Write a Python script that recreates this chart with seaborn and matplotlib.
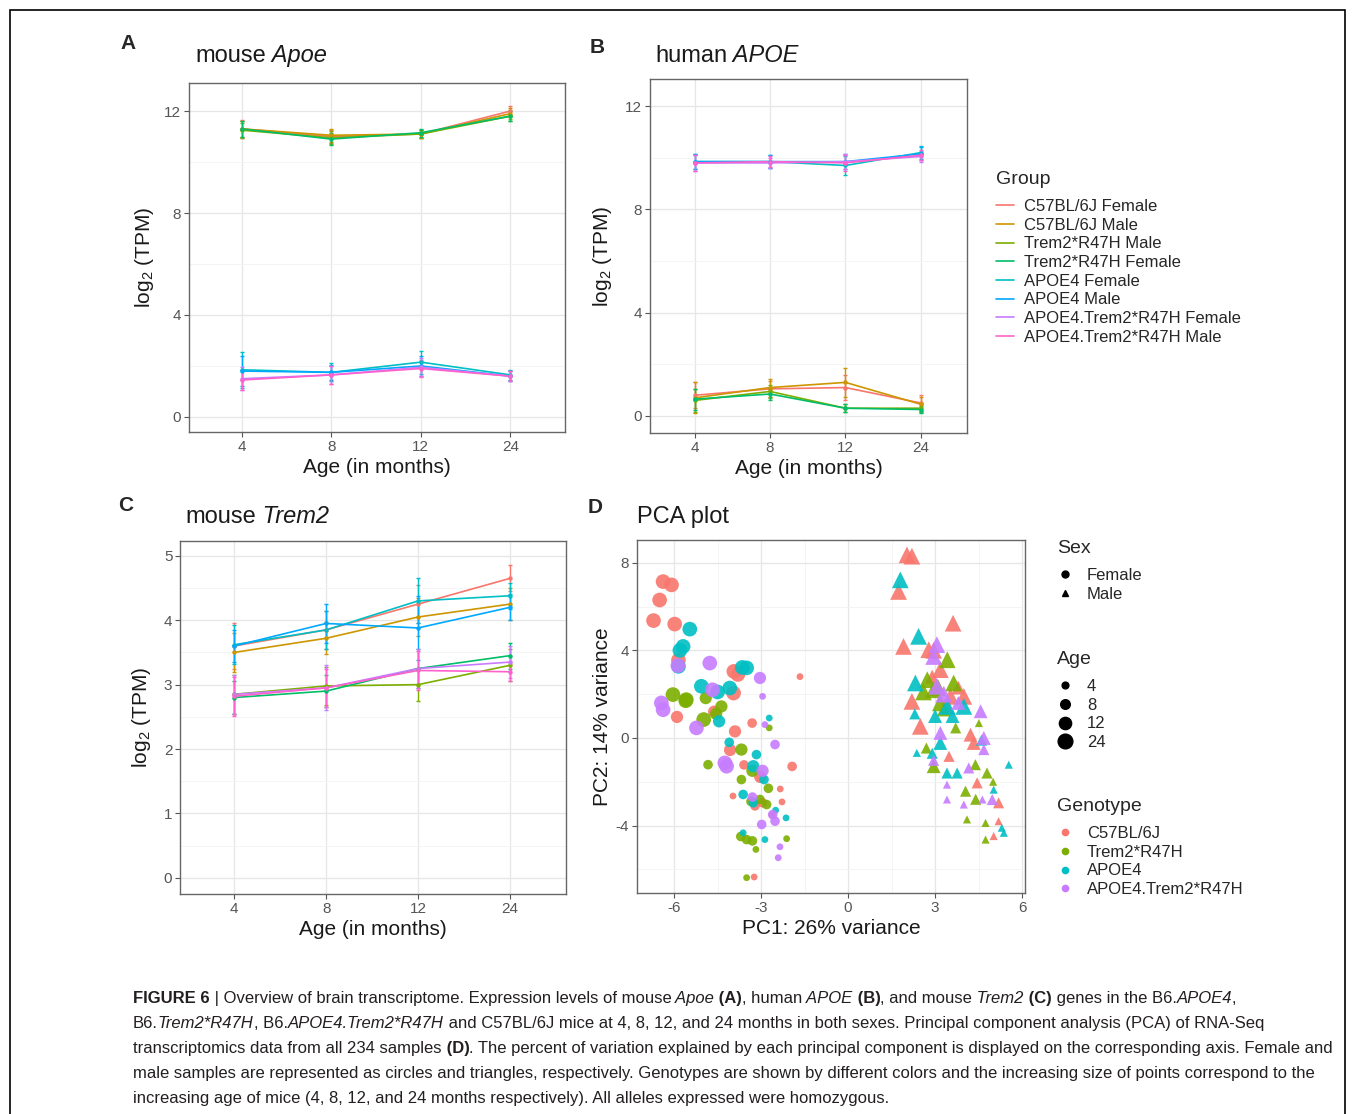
import numpy as np
import pandas as pd
import matplotlib
matplotlib.use('Agg')
import matplotlib.pyplot as plt
import seaborn as sb
from matplotlib.lines import Line2D
from matplotlib.patches import Rectangle
from matplotlib.ticker import MultipleLocator
from matplotlib import font_manager

sb.set_style('white')
plt.rcParams['font.family'] = ['Liberation Sans', 'DejaVu Sans']
plt.rcParams['mathtext.default'] = 'regular'
plt.rcParams['axes.unicode_minus'] = False

W, H = 1355, 1114

# groups for panels A-C (legend order)
ages = ['4', '8', '12', '24']
groups = ['C57BL/6J Female', 'C57BL/6J Male', 'Trem2*R47H Male', 'Trem2*R47H Female',
          'APOE4 Female', 'APOE4 Male', 'APOE4.Trem2*R47H Female', 'APOE4.Trem2*R47H Male']
group_colors = ['#F8766D', '#CD9600', '#7CAE00', '#00BE67', '#00BFC4', '#00A9FF', '#C77CFF', '#FF61CC']

# mouse Apoe, log2 TPM (one row per group, columns = ages)
mouse_apoe = [[11.30, 11.00, 11.10, 12.00],
              [11.30, 11.05, 11.10, 11.90],
              [11.25, 10.95, 11.10, 11.80],
              [11.30, 10.90, 11.15, 11.80],
              [1.85, 1.75, 2.15, 1.65],
              [1.80, 1.75, 2.00, 1.60],
              [1.50, 1.65, 1.95, 1.60],
              [1.45, 1.65, 1.90, 1.60]]
mouse_apoe_err = [[0.35, 0.25, 0.15, 0.20],
                  [0.30, 0.25, 0.15, 0.20],
                  [0.30, 0.25, 0.15, 0.20],
                  [0.30, 0.25, 0.15, 0.20],
                  [0.70, 0.35, 0.45, 0.20],
                  [0.60, 0.30, 0.40, 0.20],
                  [0.45, 0.35, 0.35, 0.20],
                  [0.40, 0.35, 0.35, 0.20]]

# human APOE
human_apoe = [[0.80, 1.05, 1.10, 0.50],
              [0.70, 1.10, 1.30, 0.45],
              [0.60, 0.95, 0.30, 0.30],
              [0.65, 0.85, 0.30, 0.25],
              [9.85, 9.85, 9.70, 10.20],
              [9.85, 9.85, 9.85, 10.15],
              [9.80, 9.80, 9.85, 10.05],
              [9.80, 9.85, 9.80, 10.10]]
human_apoe_err = [[0.50, 0.30, 0.50, 0.30],
                  [0.60, 0.35, 0.55, 0.30],
                  [0.45, 0.25, 0.15, 0.15],
                  [0.40, 0.25, 0.15, 0.15],
                  [0.30, 0.25, 0.35, 0.25],
                  [0.30, 0.25, 0.30, 0.25],
                  [0.30, 0.20, 0.30, 0.20],
                  [0.30, 0.20, 0.30, 0.20]]

# mouse Trem2
mouse_trem2 = [[3.60, 3.85, 4.25, 4.65],
               [3.50, 3.72, 4.05, 4.25],
               [2.85, 2.98, 3.00, 3.30],
               [2.80, 2.90, 3.25, 3.45],
               [3.62, 3.85, 4.30, 4.38],
               [3.60, 3.95, 3.88, 4.20],
               [2.85, 2.95, 3.25, 3.35],
               [2.82, 2.95, 3.22, 3.20]]
mouse_trem2_err = [[0.35, 0.30, 0.30, 0.20],
                   [0.30, 0.25, 0.30, 0.25],
                   [0.30, 0.30, 0.25, 0.25],
                   [0.25, 0.25, 0.30, 0.20],
                   [0.30, 0.30, 0.35, 0.20],
                   [0.25, 0.30, 0.50, 0.20],
                   [0.30, 0.35, 0.30, 0.25],
                   [0.30, 0.30, 0.30, 0.15]]

# PCA (panel D) per genotype / sex
genotypes = ['C57BL/6J', 'Trem2*R47H', 'APOE4', 'APOE4.Trem2*R47H']
genotype_colors = ['#F8766D', '#7CAE00', '#00BFC4', '#C77CFF']
age_sizes = {4: 24, 8: 48, 12: 78, 24: 112}
tri_sizes = {4: 34, 8: 64, 12: 100, 24: 145}

c57_f_pc1 = [-6.38, -6.09, -6.50, -6.71, -5.98, -5.85, -3.94, -3.80, -3.95, -4.62, -5.90, -3.90, -4.07,
             -3.59, -1.93, -3.03, -1.66, -3.31, -2.34, -3.97, -2.28, -3.21, -2.62, -3.24, -2.95]
c57_f_pc2 = [7.14, 6.99, 6.30, 5.36, 5.20, 3.55, 3.04, 2.90, 2.05, 1.20, 0.96, 0.30, -0.55,
             -1.23, -1.30, -1.78, 2.80, 0.68, -2.33, -2.65, -2.92, -3.10, -3.52, -6.35, -2.96]
c57_f_age = [24, 24, 24, 24, 24, 24, 24, 24, 24, 12, 12, 12, 12, 8, 8, 12, 4, 8, 4, 4, 4, 8, 4, 4, 8]

c57_m_pc1 = [2.03, 2.20, 1.74, 1.91, 3.62, 2.20, 2.49, 2.78, 2.95, 3.18, 3.53, 3.99, 4.22,
             3.48, 4.45, 5.19, 5.19, 5.02, 4.33, 3.40, 3.80, 2.90]
c57_m_pc2 = [8.36, 8.30, 6.69, 4.18, 5.24, 1.67, 0.53, 4.03, 4.00, 3.12, 1.90, 1.90, 0.15,
             -0.84, -2.05, -2.96, -3.80, -4.48, -0.23, 1.40, 2.30, 2.80]
c57_m_age = [24, 24, 24, 24, 24, 24, 24, 24, 24, 24, 24, 24, 12, 8, 8, 8, 4, 4, 12, 12, 12, 12]

trem2_f_pc1 = [-6.04, -5.58, -4.98, -4.91, -4.37, -3.68, -4.83, -5.60, -4.55, -2.72, -3.68,
               -3.50, -3.18, -3.50, -2.12, -2.81, -3.04, -3.30, -3.70, -3.30, -2.75, -3.35]
trem2_f_pc2 = [1.98, 1.75, 0.84, 1.82, 1.44, -0.53, -1.22, 1.70, 1.10, 0.46, -1.90,
               -4.64, -5.09, -6.38, -4.60, -3.04, -2.81, -1.50, -4.50, -4.70, -2.30, -2.90]
trem2_f_age = [24, 24, 24, 12, 12, 12, 8, 24, 12, 4, 8, 8, 4, 4, 4, 8, 8, 12, 8, 8, 8, 8]

trem2_m_pc1 = [3.42, 2.73, 2.95, 3.18, 3.64, 3.10, 2.60, 3.30, 2.95, 4.05, 4.10, 4.74, 4.74,
               4.51, 3.71, 4.79, 4.39, 2.70, 5.00, 4.40]
trem2_m_pc2 = [3.57, 2.66, 2.20, 1.60, 2.51, 2.30, 2.10, 1.30, -1.29, -2.43, -3.72, -3.88, -4.64,
               0.68, 0.46, -1.60, -1.22, -0.46, -2.00, -2.80]
trem2_m_age = [24, 24, 24, 24, 24, 24, 24, 12, 12, 8, 4, 4, 4, 4, 8, 8, 8, 8, 4, 8]

apoe4_f_pc1 = [-5.46, -5.69, -5.80, -5.85, -5.06, -4.08, -3.65, -3.50, -4.45, -3.27, -2.72,
               -3.16, -3.62, -3.27, -2.14, -3.62, -2.87, -4.10, -2.90, -2.50, -4.50]
apoe4_f_pc2 = [4.97, 4.18, 4.00, 3.27, 2.36, 2.28, 3.22, 3.20, 0.76, -1.29, 0.91,
               -0.76, -2.58, -2.96, -3.65, -4.33, -4.64, -0.20, -1.90, -3.30, 2.10]
apoe4_f_age = [24, 24, 24, 24, 24, 24, 24, 24, 12, 12, 4, 8, 8, 8, 4, 4, 4, 8, 8, 4, 24]

apoe4_m_pc1 = [1.80, 2.43, 2.32, 3.42, 3.99, 3.18, 3.00, 3.60, 5.54, 2.37, 3.41, 3.76, 5.02,
               5.37, 4.60, 2.30, 5.30, 2.90]
apoe4_m_pc2 = [7.22, 4.64, 2.51, 1.44, 1.44, -0.23, 1.00, 1.00, -1.22, -0.68, -1.60, -1.60, -2.36,
               -4.33, -0.10, 1.10, -4.10, -0.70]
apoe4_m_age = [24, 24, 24, 24, 24, 12, 12, 12, 4, 4, 8, 8, 4, 4, 8, 8, 4, 8]

apoe4t_f_pc1 = [-4.77, -3.04, -6.44, -6.38, -5.23, -4.68, -4.25, -4.19, -5.87, -2.95, -2.52,
                -2.87, -2.98, -2.35, -2.41, -2.52, -2.95, -2.60, -3.30]
apoe4t_f_pc2 = [3.42, 2.74, 1.60, 1.29, 0.46, 2.20, -1.14, -1.29, 3.30, 1.90, -0.30,
                0.61, -3.95, -4.97, -5.47, -3.80, -1.50, -3.50, -2.70]
apoe4t_f_age = [24, 12, 24, 24, 24, 24, 24, 24, 24, 4, 8, 4, 8, 4, 4, 8, 12, 8, 8]

apoe4t_m_pc1 = [3.06, 2.95, 3.06, 4.57, 3.18, 4.68, 3.41, 3.41, 3.99, 4.16, 4.63, 4.97, 4.68,
                2.95, 3.30, 3.80]
apoe4t_m_pc2 = [4.26, 3.72, 2.36, 1.22, 0.23, 0.00, -2.13, -2.81, -3.04, -1.37, -2.81, -2.81, -0.53,
                -1.02, 2.00, 1.60]
apoe4t_m_age = [24, 24, 24, 12, 12, 12, 4, 4, 4, 8, 4, 8, 8, 8, 24, 12]

pca_parts = [('C57BL/6J', 'Female', c57_f_pc1, c57_f_pc2, c57_f_age),
             ('C57BL/6J', 'Male', c57_m_pc1, c57_m_pc2, c57_m_age),
             ('Trem2*R47H', 'Female', trem2_f_pc1, trem2_f_pc2, trem2_f_age),
             ('Trem2*R47H', 'Male', trem2_m_pc1, trem2_m_pc2, trem2_m_age),
             ('APOE4', 'Female', apoe4_f_pc1, apoe4_f_pc2, apoe4_f_age),
             ('APOE4', 'Male', apoe4_m_pc1, apoe4_m_pc2, apoe4_m_age),
             ('APOE4.Trem2*R47H', 'Female', apoe4t_f_pc1, apoe4t_f_pc2, apoe4t_f_age),
             ('APOE4.Trem2*R47H', 'Male', apoe4t_m_pc1, apoe4t_m_pc2, apoe4t_m_age)]
pca = pd.concat([pd.DataFrame({'PC1': x, 'PC2': y, 'Age': a, 'Genotype': g, 'Sex': s})
                 for g, s, x, y, a in pca_parts], ignore_index=True)

fig = plt.figure(figsize=(W / 100, H / 100), dpi=100)
overlay = fig.add_axes([0, 0, 1, 1])
overlay.axis('off')


def box(left, top, right, bottom):
    return [left / W, 1 - bottom / H, (right - left) / W, (bottom - top) / H]


def style_axes(ax, xlabel, ylabel, ypad):
    ax.set_xlabel(xlabel, fontsize=15, labelpad=3, color='#1a1a1a')
    ax.set_ylabel(ylabel, fontsize=15, labelpad=ypad, color='#1a1a1a')
    ax.tick_params(axis='both', which='major', length=3.5, width=0.8, color='#555555',
                   labelcolor='#555555', labelsize=11, pad=2, left=True, bottom=True)
    ax.tick_params(axis='both', which='minor', length=0)
    for sp in ax.spines.values():
        sp.set_color('#666666')
        sp.set_linewidth(1.0)
    ax.grid(True, which='major', color='#e6e6e6', lw=0.9)
    ax.grid(True, which='minor', axis='y', color='#f3f3f3', lw=0.6)
    ax.set_axisbelow(True)


def line_panel(ax, means, errs, ylim, yticks, ystep, ypad):
    rows = []
    for g, mrow, erow in zip(groups, means, errs):
        for i in range(len(ages)):
            rows.append({'group': g, 'pos': i, 'value': mrow[i], 'err': erow[i]})
    df = pd.DataFrame(rows)
    sb.lineplot(data=df, x='pos', y='value', hue='group', hue_order=groups, palette=group_colors,
                lw=1.2, legend=False, errorbar=None, ax=ax)
    for g, c in zip(groups, group_colors):
        sub = df[df.group == g]
        ax.errorbar(sub.pos, sub.value, yerr=sub.err, fmt='o', ms=2.2, color=c, lw=0,
                    elinewidth=1.0, capsize=1.5, capthick=1.0)
    ax.set_xlim(-0.59, 3.61)
    ax.set_ylim(*ylim)
    ax.set_xticks(range(len(ages)))
    ax.set_xticklabels(ages)
    ax.set_yticks(yticks)
    ax.yaxis.set_minor_locator(MultipleLocator(ystep))
    style_axes(ax, 'Age (in months)', '$\\mathregular{log_2}$ (TPM)', ypad)


axA = fig.add_axes(box(189, 83, 565, 432))
line_panel(axA, mouse_apoe, mouse_apoe_err, (-0.59, 13.1), [0, 4, 8, 12], 2, 6)
axB = fig.add_axes(box(650, 79, 967, 433))
line_panel(axB, human_apoe, human_apoe_err, (-0.66, 13.05), [0, 4, 8, 12], 2, 8)
axC = fig.add_axes(box(180, 541, 566, 894))
line_panel(axC, mouse_trem2, mouse_trem2_err, (-0.25, 5.23), [0, 1, 2, 3, 4, 5], 0.5, 8)

# panel D, PCA (circles for females, triangles for males)
axD = fig.add_axes(box(637, 540, 1025, 893))
for sex, marker, sizes in [('Female', 'o', age_sizes), ('Male', '^', tri_sizes)]:
    sb.scatterplot(data=pca[pca.Sex == sex], x='PC1', y='PC2', hue='Genotype', hue_order=genotypes,
                   palette=genotype_colors, marker=marker, size='Age', sizes=sizes,
                   legend=False, linewidth=0, alpha=0.9, ax=axD)
axD.set_xlim(-7.28, 6.1)
axD.set_ylim(-7.08, 9.04)
axD.set_xticks([-6, -3, 0, 3, 6])
axD.set_yticks([-4, 0, 4, 8])
axD.xaxis.set_minor_locator(MultipleLocator(1.5))
axD.yaxis.set_minor_locator(MultipleLocator(2))
style_axes(axD, 'PC1: 26% variance', 'PC2: 14% variance', 3)
axD.grid(True, which='minor', axis='x', color='#f3f3f3', lw=0.6)


# text made of plain / italic / bold pieces, chained left to right
def rich_text(x, y, parts, size, family, color='#1a1a1a'):
    out = []
    prev = None
    for s, st in parts:
        kw = dict(fontsize=size, family=family, color=color, ha='left', va='bottom',
                  style='italic' if 'i' in st else 'normal',
                  weight='bold' if 'b' in st else 'normal')
        if prev is None:
            prev = overlay.text(x / W, 1 - y / H, s, transform=fig.transFigure, **kw)
        else:
            prev = overlay.annotate(s, xy=(1, 0), xycoords=prev, **kw)
        out.append(prev)
    return out


sans = ['Liberation Sans', 'DejaVu Sans']
for letter, x, y in [('A', 120, 49), ('B', 590, 53), ('C', 118, 511), ('D', 588, 513)]:
    fig.text(x / W, 1 - y / H, letter, fontsize=15, weight='bold', ha='left', va='baseline')

rich_text(195, 67, [('mouse', 'n'), (' Apoe', 'i')], 17, sans)
rich_text(655, 67, [('human', 'n'), (' APOE', 'i')], 17, sans)
rich_text(185, 528, [('mouse', 'n'), (' Trem2', 'i')], 17, sans)
rich_text(637, 528, [('PCA plot', 'n')], 17, sans)


def add_legend(handles, labels, title, x, y, hlen, hpad):
    leg = fig.legend(handles, labels, loc='upper left', bbox_to_anchor=(x / W, 1 - y / H),
                     frameon=False, title=title, title_fontsize=14, fontsize=12, handlelength=hlen,
                     handletextpad=hpad, labelspacing=0.22, borderpad=0, borderaxespad=0,
                     alignment='left')
    leg._legend_box.sep = 8
    return leg


group_handles = [Line2D([], [], color=c, lw=1.2) for c in group_colors]
add_legend(group_handles, groups, 'Group', 996, 171, 1.05, 0.6)

sex_handles = [Line2D([], [], marker=m, ls='', color='black', markersize=5) for m in ['o', '^']]
add_legend(sex_handles, ['Female', 'Male'], 'Sex', 1057, 540, 1.0, 0.8)

age_handles = [Line2D([], [], marker='o', ls='', color='black', markersize=np.sqrt(age_sizes[a]))
               for a in [4, 8, 12, 24]]
add_legend(age_handles, ages, 'Age', 1057, 651, 1.0, 0.8)

geno_handles = [Line2D([], [], marker='o', ls='', color=c, markersize=4.5) for c in genotype_colors]
add_legend(geno_handles, genotypes, 'Genotype', 1057, 798, 1.0, 0.8)

# caption
available = {f.name for f in font_manager.fontManager.ttflist}
cap_family = ['Liberation Sans Narrow'] if 'Liberation Sans Narrow' in available else sans
cap_lines = [
    [('FIGURE 6', 'b'), (' |', 'n'), (' Overview of brain transcriptome. Expression levels of mouse', 'n'),
     (' Apoe', 'i'), (' (A)', 'b'), (', human', 'n'), (' APOE', 'i'), (' (B)', 'b'), (', and mouse', 'n'),
     (' Trem2', 'i'), (' (C)', 'b'), (' genes in the B6.', 'n'), ('APOE4', 'i'), (',', 'n')],
    [('B6.', 'n'), ('Trem2*R47H', 'i'), (', B6.', 'n'), ('APOE4.Trem2*R47H', 'i'),
     (' and C57BL/6J mice at 4, 8, 12, and 24 months in both sexes. Principal component analysis (PCA) of RNA-Seq', 'n')],
    [('transcriptomics data from all 234 samples', 'n'), (' (D)', 'b'),
     ('. The percent of variation explained by each principal component is displayed on the corresponding axis. Female and', 'n')],
    [('male samples are represented as circles and triangles, respectively. Genotypes are shown by different colors and the increasing size of points correspond to the', 'n')],
    [('increasing age of mice (4, 8, 12, and 24 months respectively). All alleles expressed were homozygous.', 'n')],
]
cap_texts = [rich_text(133, 1006 + 25 * i, parts, 13, cap_family, '#231f20')
             for i, parts in enumerate(cap_lines)]

# fit caption width to the reference (third line spans 133..1323 px)
fig.canvas.draw()
r = fig.canvas.get_renderer()
x0 = cap_texts[2][0].get_window_extent(r).x0
x1 = cap_texts[2][-1].get_window_extent(r).x1
scale = (1323 - 133) / (x1 - x0)
for line in cap_texts:
    for t in line:
        t.set_fontsize(t.get_fontsize() * scale)

# outer frame
fig.patches.append(Rectangle((10 / W, -0.02), (1345 - 10) / W, 1 - 10 / H + 0.02,
                             transform=fig.transFigure, fill=False, edgecolor='black', lw=1.2))

fig.savefig('out.png', dpi=100)
